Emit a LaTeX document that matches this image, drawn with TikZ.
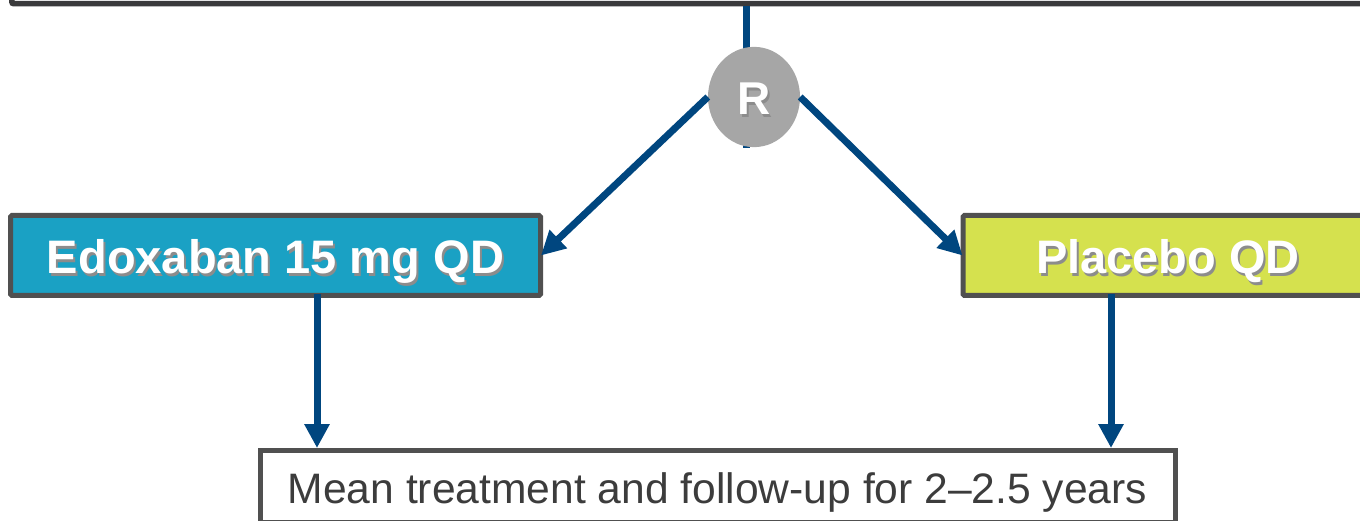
\documentclass[tikz,border=0pt]{standalone}
\usepackage{fontspec}
\setmainfont{Liberation Sans}
\usetikzlibrary{arrows.meta}
\definecolor{arrblue}{RGB}{0,70,127}
\definecolor{edofill}{RGB}{26,161,196}
\definecolor{plafill}{RGB}{213,225,78}
\definecolor{boxline}{RGB}{80,80,80}
\definecolor{topline}{RGB}{58,58,60}
\definecolor{rgray}{RGB}{166,166,166}
\definecolor{txtgray}{RGB}{60,60,60}
\newcommand\shadowtxt[1]{\makebox[0pt][l]{\hspace{2pt}\raisebox{-2.5pt}{\color{black!45}#1}}#1}
\tikzset{
  arm/.style={draw=boxline, line width=5pt, rounded corners=1.5pt, inner sep=0pt, minimum height=80pt,
     text=white, font=\fontsize{47}{56}\bfseries\selectfont, text height=37pt, text depth=0pt},
  arr/.style={draw=arrblue, line width=7pt, -{Triangle[width=24pt,length=24pt]}},
}
\begin{document}
\begin{tikzpicture}[x=1pt,y=-1pt]
\useasboundingbox (0,0) rectangle (1360,521);
% top box (mostly off-page)
\node[draw=topline, line width=5.5pt, rounded corners=2pt, minimum width=1400pt, minimum height=100pt, inner sep=0pt, anchor=south west] (top) at (9,6.5) {};
\coordinate (trunk) at (746.5,148);
\draw[arrblue, line width=7pt] (trunk |- top.south) -- (trunk);
\node[circle, fill=rgray, minimum width=92pt, inner sep=0pt, yscale=1.09] (R) at (754,97) {};
\node[text=white, font=\fontsize{46}{52}\bfseries\selectfont, inner sep=0pt, text height=36pt, text depth=0pt] (Rtxt) at (R.center) {\shadowtxt{R}};
\node[arm, fill=edofill, minimum width=530pt] (edo) at (275.5,255.5) {\shadowtxt{Edoxaban 15 mg QD}};
\node[arm, fill=plafill, minimum width=410pt] (pla) at (1168,255.5) {\shadowtxt{Placebo QD}};
\node[draw=boxline, line width=5pt, minimum width=915pt, minimum height=72pt, inner sep=0pt,
      text=txtgray, font=\fontsize{42.6}{50}\selectfont, text height=34pt, text depth=0pt] (mean) at (717.5,486.5) {Mean treatment and follow-up for 2–2.5 years};
\draw[arr] (R.west) -- ([xshift=-2pt]edo.east);
\draw[arr] (R.east) -- ([xshift=2pt]pla.west);
\draw[arr] ([xshift=41.5pt,yshift=4pt]edo.south) -- ([xshift=41.5pt]edo.south |- mean.north);
\draw[arr] ([xshift=-57pt,yshift=4pt]pla.south) -- ([xshift=-57pt]pla.south |- mean.north);
\end{tikzpicture}
\end{document}
